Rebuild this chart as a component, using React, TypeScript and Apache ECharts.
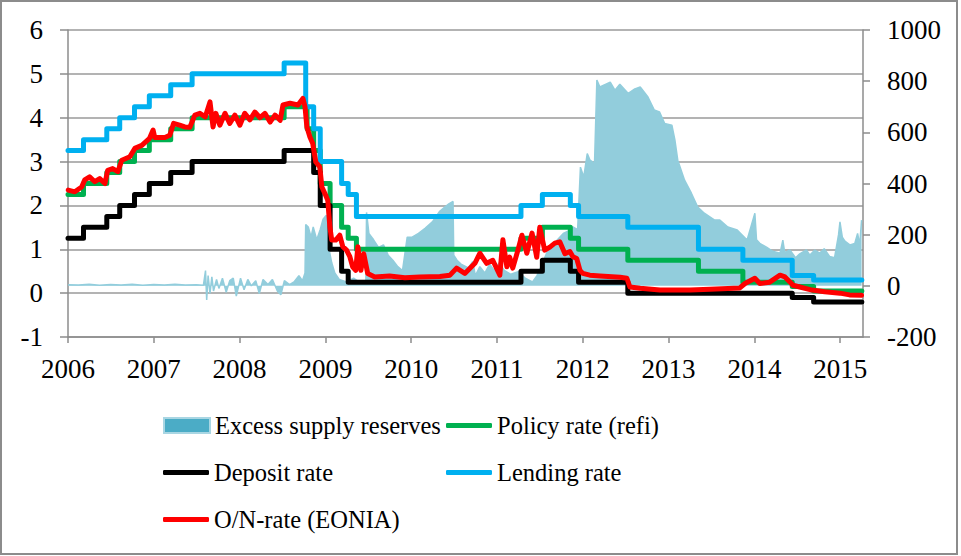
import React, { useEffect, useRef } from "react";
import * as echarts from "echarts";

const seriesNames = [
  "Excess supply reserves",
  "Policy rate (refi)",
  "Deposit rate",
  "Lending rate",
  "O/N-rate (EONIA)",
];

const xMinYear = 2006;
const xMaxDate = "2015-04-08";

const policyRate: [string, number][] = [
  ["2006-01-01", 2.25], ["2006-03-08", 2.5], ["2006-06-15", 2.75], ["2006-08-09", 3.0],
  ["2006-10-11", 3.25], ["2006-12-13", 3.5], ["2007-03-14", 3.75], ["2007-06-13", 4.0],
  ["2008-07-09", 4.25], ["2008-10-15", 3.75], ["2008-11-12", 3.25], ["2008-12-10", 2.5],
  ["2009-01-21", 2.0], ["2009-03-11", 1.5], ["2009-04-08", 1.25], ["2009-05-13", 1.0],
  ["2011-04-13", 1.25], ["2011-07-13", 1.5], ["2011-11-09", 1.25], ["2011-12-14", 1.0],
  ["2012-07-11", 0.75], ["2013-05-08", 0.5], ["2013-11-13", 0.25], ["2014-06-11", 0.15],
  ["2014-09-10", 0.05], ["2015-04-03", 0.05],
];

const depositRate: [string, number][] = [
  ["2006-01-01", 1.25], ["2006-03-08", 1.5], ["2006-06-15", 1.75], ["2006-08-09", 2.0],
  ["2006-10-11", 2.25], ["2006-12-13", 2.5], ["2007-03-14", 2.75], ["2007-06-13", 3.0],
  ["2008-07-09", 3.25], ["2008-11-12", 2.75], ["2008-12-10", 2.0], ["2009-01-21", 1.0],
  ["2009-03-11", 0.5], ["2009-04-08", 0.25], ["2011-04-13", 0.5], ["2011-07-13", 0.75],
  ["2011-11-09", 0.5], ["2011-12-14", 0.25], ["2012-07-11", 0.0], ["2014-06-11", -0.1],
  ["2014-09-10", -0.2], ["2015-04-03", -0.2],
];

const lendingRate: [string, number][] = [
  ["2006-01-01", 3.25], ["2006-03-08", 3.5], ["2006-06-15", 3.75], ["2006-08-09", 4.0],
  ["2006-10-11", 4.25], ["2006-12-13", 4.5], ["2007-03-14", 4.75], ["2007-06-13", 5.0],
  ["2008-07-09", 5.25], ["2008-10-09", 4.25], ["2008-11-12", 3.75], ["2008-12-10", 3.0],
  ["2009-03-11", 2.5], ["2009-04-08", 2.25], ["2009-05-13", 1.75], ["2011-04-13", 2.0],
  ["2011-07-13", 2.25], ["2011-11-09", 2.0], ["2011-12-14", 1.75], ["2012-07-11", 1.5],
  ["2013-05-08", 1.0], ["2013-11-13", 0.75], ["2014-06-11", 0.4], ["2014-09-10", 0.3],
  ["2015-04-03", 0.3],
];

const eoniaRate: [string, number][] = [
  ["2006-01-02", 2.35], ["2006-01-30", 2.31], ["2006-02-28", 2.42], ["2006-03-13", 2.58],
  ["2006-04-03", 2.65], ["2006-04-25", 2.54], ["2006-05-16", 2.61], ["2006-06-07", 2.5],
  ["2006-06-19", 2.8], ["2006-07-10", 2.84], ["2006-08-01", 2.77], ["2006-08-18", 3.03],
  ["2006-09-21", 3.11], ["2006-10-12", 3.3], ["2006-11-11", 3.37], ["2006-12-14", 3.53],
  ["2006-12-29", 3.72], ["2007-01-05", 3.55], ["2007-02-17", 3.55], ["2007-03-10", 3.6],
  ["2007-03-26", 3.87], ["2007-04-21", 3.83], ["2007-05-13", 3.79], ["2007-06-03", 3.78],
  ["2007-06-25", 4.06], ["2007-07-16", 4.1], ["2007-08-08", 4.02], ["2007-08-28", 4.36],
  ["2007-09-10", 3.79], ["2007-09-22", 4.1], ["2007-10-09", 3.83], ["2007-10-31", 4.1],
  ["2007-11-20", 3.87], ["2007-12-12", 4.06], ["2008-01-02", 3.83], ["2008-01-23", 4.1],
  ["2008-02-14", 3.95], ["2008-03-06", 4.13], ["2008-03-28", 4.0], ["2008-04-18", 4.1],
  ["2008-05-10", 3.9], ["2008-05-31", 4.06], ["2008-06-22", 3.94], ["2008-07-04", 4.29],
  ["2008-08-03", 4.33], ["2008-09-06", 4.29], ["2008-09-27", 4.44], ["2008-10-06", 4.25],
  ["2008-10-14", 3.79], ["2008-10-27", 3.56], ["2008-11-08", 3.41], ["2008-11-21", 2.99],
  ["2008-12-08", 2.88], ["2008-12-17", 2.42], ["2008-12-30", 2.27], ["2009-01-11", 2.12],
  ["2009-01-20", 1.51], ["2009-01-28", 1.21], ["2009-02-14", 1.21], ["2009-03-03", 1.32],
  ["2009-03-16", 1.06], ["2009-04-01", 0.98], ["2009-04-15", 0.83], ["2009-04-27", 0.6],
  ["2009-05-10", 0.52], ["2009-05-19", 1.06], ["2009-06-01", 0.52], ["2009-06-13", 0.9],
  ["2009-06-30", 0.45], ["2009-07-30", 0.37], ["2009-10-01", 0.39], ["2009-12-05", 0.35],
  ["2010-02-07", 0.37], ["2010-05-03", 0.38], ["2010-06-15", 0.41], ["2010-07-13", 0.57],
  ["2010-08-17", 0.45], ["2010-09-29", 0.68], ["2010-10-20", 0.91], ["2010-11-18", 0.68],
  ["2010-12-14", 0.75], ["2011-01-13", 0.41], ["2011-01-26", 1.22], ["2011-02-12", 0.6],
  ["2011-02-24", 0.82], ["2011-03-09", 0.57], ["2011-03-31", 0.98], ["2011-04-17", 1.32],
  ["2011-05-08", 0.91], ["2011-05-30", 1.37], ["2011-06-19", 0.82], ["2011-07-02", 1.5],
  ["2011-07-23", 0.98], ["2011-08-14", 1.05], ["2011-09-04", 1.14], ["2011-09-25", 1.17],
  ["2011-10-17", 0.9], ["2011-11-07", 0.95], ["2011-11-20", 0.83], ["2011-12-06", 0.79],
  ["2011-12-20", 0.52], ["2012-01-01", 0.45], ["2012-01-31", 0.41], ["2012-03-14", 0.39],
  ["2012-06-08", 0.36], ["2012-07-07", 0.34], ["2012-07-20", 0.14], ["2012-09-02", 0.11],
  ["2012-11-25", 0.07], ["2013-04-02", 0.07], ["2013-06-26", 0.09], ["2013-10-31", 0.12],
  ["2013-11-22", 0.22], ["2014-01-03", 0.34], ["2014-01-24", 0.22], ["2014-03-07", 0.25],
  ["2014-04-20", 0.41], ["2014-05-11", 0.37], ["2014-06-02", 0.25], ["2014-06-14", 0.18],
  ["2014-07-13", 0.14], ["2014-09-03", 0.07], ["2014-10-27", 0.03], ["2014-12-31", 0.0],
  ["2015-02-10", -0.04], ["2015-04-02", -0.05],
];

const excessReserves: [string, number][] = [
  ["2006-01-02", 4], ["2006-02-15", 3], ["2006-04-01", 6], ["2006-05-15", 2],
  ["2006-07-01", 5], ["2006-08-15", 3], ["2006-10-01", 6], ["2006-11-15", 2],
  ["2007-01-01", 5], ["2007-02-15", 3], ["2007-04-01", 6], ["2007-05-15", 3],
  ["2007-07-01", 4], ["2007-07-31", 2], ["2007-08-09", 60], ["2007-08-14", -55],
  ["2007-08-20", 40], ["2007-08-28", -30], ["2007-09-05", 35], ["2007-09-12", -20],
  ["2007-09-25", 25], ["2007-10-05", -10], ["2007-10-20", 30], ["2007-11-05", -25],
  ["2007-11-20", 20], ["2007-12-05", 30], ["2007-12-18", -40], ["2008-01-05", 30],
  ["2008-01-20", -15], ["2008-02-05", 25], ["2008-02-20", 0], ["2008-03-10", 20],
  ["2008-03-25", -30], ["2008-04-10", 25], ["2008-05-01", 5], ["2008-05-20", 25],
  ["2008-06-10", -20], ["2008-06-25", -35], ["2008-07-10", 20], ["2008-08-01", 5],
  ["2008-08-20", 15], ["2008-09-10", 40], ["2008-09-25", 20], ["2008-10-06", 50],
  ["2008-10-09", 240], ["2008-10-20", 230], ["2008-11-01", 190], ["2008-11-10", 230],
  ["2008-11-25", 180], ["2008-12-10", 220], ["2008-12-22", 260], ["2009-01-05", 276],
  ["2009-01-15", 150], ["2009-01-28", 90], ["2009-02-10", 50], ["2009-03-01", 25],
  ["2009-04-01", 15], ["2009-05-01", 30], ["2009-06-01", 10], ["2009-06-22", 10],
  ["2009-06-25", 287], ["2009-07-05", 205], ["2009-07-25", 180], ["2009-08-15", 150],
  ["2009-09-05", 160], ["2009-09-25", 120], ["2009-10-15", 100], ["2009-11-05", 75],
  ["2009-11-25", 60], ["2009-12-15", 190], ["2010-01-05", 190], ["2010-02-01", 205],
  ["2010-03-01", 225], ["2010-04-01", 250], ["2010-05-01", 290], ["2010-05-20", 305],
  ["2010-06-10", 320], ["2010-06-28", 330], ["2010-07-01", 120], ["2010-07-15", 100],
  ["2010-08-01", 85], ["2010-09-01", 70], ["2010-09-20", 95], ["2010-10-01", 40],
  ["2010-10-20", 75], ["2010-11-10", 50], ["2010-12-01", 85], ["2010-12-20", 60],
  ["2011-01-10", 90], ["2011-02-01", 60], ["2011-03-01", 45], ["2011-04-01", 55],
  ["2011-05-01", 30], ["2011-06-01", 15], ["2011-06-20", 40], ["2011-07-10", 80],
  ["2011-08-01", 130], ["2011-08-20", 150], ["2011-09-15", 180], ["2011-10-10", 205],
  ["2011-11-01", 215], ["2011-11-20", 230], ["2011-12-10", 220], ["2011-12-22", 464],
  ["2012-01-05", 425], ["2012-01-20", 517], ["2012-02-01", 491], ["2012-02-20", 479],
  ["2012-03-01", 804], ["2012-03-14", 777], ["2012-04-27", 796], ["2012-05-17", 765],
  ["2012-06-07", 788], ["2012-07-13", 752], ["2012-08-10", 770], ["2012-09-02", 777],
  ["2012-10-05", 738], ["2012-11-01", 687], ["2012-11-23", 680], ["2012-12-15", 635],
  ["2013-01-15", 628], ["2013-01-28", 569], ["2013-02-09", 491], ["2013-03-10", 413],
  ["2013-04-08", 362], ["2013-05-05", 308], ["2013-06-02", 284], ["2013-07-16", 257],
  ["2013-08-07", 257], ["2013-09-10", 230], ["2013-10-20", 218], ["2013-12-01", 179],
  ["2014-01-03", 284], ["2014-01-10", 180], ["2014-01-24", 166], ["2014-02-23", 150],
  ["2014-03-20", 135], ["2014-04-20", 127], ["2014-05-02", 179], ["2014-05-10", 130],
  ["2014-06-01", 140], ["2014-06-25", 110], ["2014-07-13", 125], ["2014-08-10", 140],
  ["2014-08-25", 120], ["2014-09-15", 140], ["2014-10-06", 128], ["2014-10-25", 145],
  ["2014-11-17", 115], ["2014-12-08", 110], ["2014-12-25", 200], ["2014-12-31", 250],
  ["2015-01-10", 190], ["2015-01-21", 175], ["2015-02-11", 160], ["2015-03-04", 166],
  ["2015-03-16", 205], ["2015-03-25", 160], ["2015-04-02", 257],
];

function toYear(s: string): number {
  const t = Date.parse(s + "T00:00:00Z");
  const y = new Date(t).getUTCFullYear();
  const a = Date.UTC(y, 0, 1);
  const b = Date.UTC(y + 1, 0, 1);
  return y + (t - a) / (b - a);
}

const conv = (arr: [string, number][]) => arr.map(([d, v]) => [toYear(d), v]);

const FONT = "Liberation Serif";

export default function App() {
  const ref = useRef<HTMLDivElement>(null);

  useEffect(() => {
    if (!ref.current) return;
    const chart = echarts.init(ref.current, undefined, { renderer: "svg" });

    const lineSeries = (name: string, data: [string, number][], color: string) => ({
      name,
      type: "line",
      data: conv(data),
      step: "end",
      symbol: "none",
      showSymbol: false,
      itemStyle: { color },
      lineStyle: { color, width: 5, cap: "round", join: "round" },
    });

    const legendText = { fontFamily: FONT, fontSize: 24.5, color: "#000" };
    const lineLegend = (name: string, left: number, top: number) => ({
      left,
      top,
      padding: 0,
      itemWidth: 46,
      itemHeight: 5,
      icon: "roundRect",
      selectedMode: false,
      textStyle: legendText,
      data: [name],
    });

    chart.setOption({
      animation: false,
      backgroundColor: "#fff",
      grid: { left: 68, right: 98, top: 30, bottom: 219, containLabel: false },
      graphic: [
        {
          type: "rect",
          shape: { x: 1, y: 1, width: 956, height: 553 },
          style: { fill: "none", stroke: "#8c8c8c", lineWidth: 2 },
          silent: true,
        },
      ],
      legend: [
        {
          left: 163,
          top: 413,
          padding: 0,
          itemWidth: 46,
          itemHeight: 15,
          icon: "rect",
          selectedMode: false,
          textStyle: legendText,
          data: [
            {
              name: seriesNames[0],
              itemStyle: { color: "#4BACC6", borderColor: "#A9D6E3", borderWidth: 2 },
            },
          ],
        },
        lineLegend(seriesNames[1], 446, 413),
        lineLegend(seriesNames[2], 163, 460),
        lineLegend(seriesNames[3], 446, 460),
        lineLegend(seriesNames[4], 163, 507),
      ],
      xAxis: {
        type: "value",
        min: xMinYear,
        max: toYear(xMaxDate),
        interval: 1,
        axisLine: { show: true, onZero: false, lineStyle: { color: "#8c8c8c", width: 1.5 } },
        axisTick: { show: true, length: 6, lineStyle: { color: "#8c8c8c", width: 1.5 } },
        splitLine: { show: false },
        axisLabel: {
          margin: 18,
          showMaxLabel: false,
          fontFamily: FONT,
          fontSize: 27,
          color: "#000",
          formatter: (v: number) => (Math.abs(v - Math.round(v)) < 1e-6 ? String(Math.round(v)) : ""),
        },
      },
      yAxis: [
        {
          type: "value",
          min: -1,
          max: 6,
          interval: 1,
          axisLine: { show: true, lineStyle: { color: "#8c8c8c", width: 1.5 } },
          axisTick: { show: true, length: 8, lineStyle: { color: "#8c8c8c", width: 1.5 } },
          splitLine: { show: true, lineStyle: { color: "#9a9a9a", width: 1.5 } },
          axisLabel: { margin: 25, fontFamily: FONT, fontSize: 27, color: "#000" },
        },
        {
          type: "value",
          min: -200,
          max: 1000,
          interval: 200,
          position: "right",
          axisLine: { show: true, lineStyle: { color: "#8c8c8c", width: 1.5 } },
          axisTick: { show: true, length: 7, lineStyle: { color: "#8c8c8c", width: 1.5 } },
          splitLine: { show: false },
          axisLabel: {
            margin: 24,
            fontFamily: FONT,
            fontSize: 27,
            color: "#000",
            formatter: (v: number) => String(v),
          },
        },
      ],
      series: [
        {
          name: seriesNames[0],
          type: "line",
          yAxisIndex: 1,
          data: conv(excessReserves),
          symbol: "none",
          showSymbol: false,
          itemStyle: { color: "#92CDDC" },
          lineStyle: { color: "#92CDDC", width: 1.5 },
          areaStyle: { color: "#92CDDC", opacity: 1 },
        },
        lineSeries(seriesNames[1], policyRate, "#00B050"),
        lineSeries(seriesNames[2], depositRate, "#000000"),
        lineSeries(seriesNames[3], lendingRate, "#00B0F0"),
        {
          name: seriesNames[4],
          type: "line",
          data: conv(eoniaRate),
          symbol: "none",
          showSymbol: false,
          itemStyle: { color: "#FF0000" },
          lineStyle: { color: "#FF0000", width: 5, cap: "round", join: "round" },
        },
      ],
    });

    return () => chart.dispose();
  }, []);

  return (
    <div
      ref={ref}
      style={{ position: "fixed", left: 0, top: 0, width: 961, height: 556, background: "#fff" }}
    />
  );
}
